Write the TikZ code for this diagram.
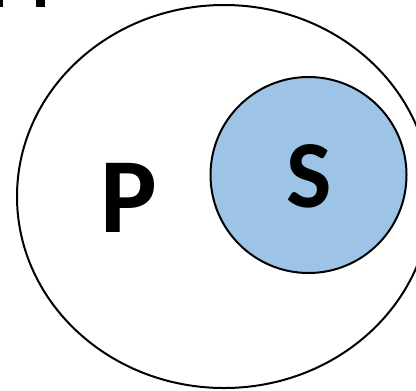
\documentclass[tikz,border=0pt]{standalone}
\usepackage{fontspec}
\newfontfamily\labelfont{Carlito}
\definecolor{insieme}{HTML}{9DC3E6}
\tikzset{
  bordo/.style={line width=1.5pt},
  lettera/.style={font=\labelfont\bfseries, inner sep=0pt}
}
\begin{document}
\begin{tikzpicture}[x=0.75pt,y=-0.75pt,line join=round,line cap=round]
  \useasboundingbox (0,0) rectangle (416,390);
  \clip (0,0) rectangle (416,390);

  % --- resti del titolo tagliato in alto a sinistra
  \fill (0,0) rectangle (2.7,7);
  \fill (36,0) rectangle (45,7);

  % --- insieme P
  \draw[bordo] (224,196.5) ellipse [x radius=207, y radius=191.5];
  \node[lettera, font=\labelfont\bfseries\fontsize{80}{80}\selectfont] (P) at (129,197.5) {P};

  % --- sottoinsieme S
  \draw[bordo, fill=insieme] (308.5,175) circle (98);
  \node[lettera, font=\labelfont\bfseries\fontsize{72}{72}\selectfont] (S) at (309,176.5) {S};
\end{tikzpicture}
\end{document}
